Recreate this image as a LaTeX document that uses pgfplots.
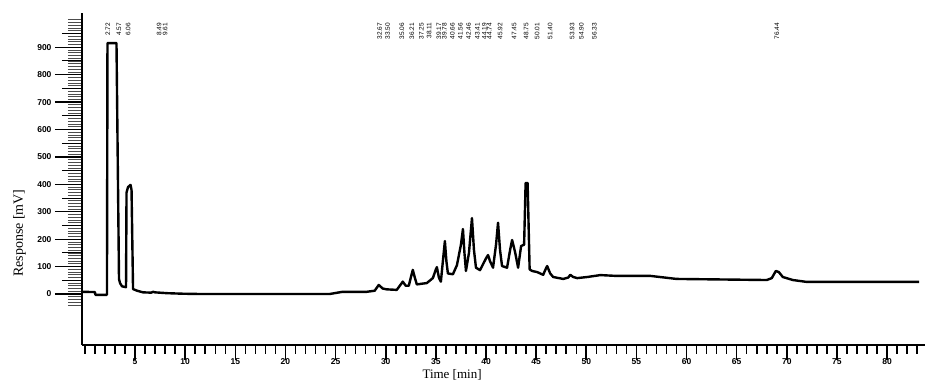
\documentclass[border=0pt]{standalone}
\usepackage{fontspec}
\setmainfont{Liberation Serif}
\newfontfamily\arial{Liberation Sans}
\usepackage{pgfplots}
\pgfplotsset{compat=1.18}
\pgfplotsset{commonax/.style={at={(82pt,37pt)}, anchor=south west, scale only axis,
  width=843pt, height=332pt, xmin=-0.29, xmax=83.78, ymin=-186, ymax=1025,
  /pgf/number format/assume math mode=true,
  tick label style={font=\arial\bfseries\fontsize{8.5}{9}\selectfont}}}
\begin{document}
\begin{tikzpicture}[x=1pt,y=1pt]
\useasboundingbox (0,0) rectangle (925,382);
% y axis: major and minor ticks
\begin{axis}[commonax,
  axis x line=none, axis y line=left, y axis line style={-, line width=2.4pt},
  ytick align=outside,
  ytick={0,100,...,900}, minor ytick={-40,-30,...,1000},
  major tick length=27pt, minor tick length=14pt,
  major tick style={line width=1.3pt, black}, minor tick style={line width=0.7pt, black!70},
  ylabel={Response [mV]},
  ylabel style={at={(axis description cs:-0.074,0.337)}, anchor=center, font=\fontsize{14}{16}\selectfont}]
\end{axis}
% y axis: medium ticks at the fifties
\begin{axis}[commonax,
  axis x line=none, axis y line=left, y axis line style={draw=none},
  ytick align=outside,
  ytick={50,150,...,950}, yticklabels={}, major tick length=20pt,
  major tick style={line width=1pt, black}]
\end{axis}
% x axis and the trace
\begin{axis}[commonax, clip=false,
  axis x line=bottom, axis y line=none, x axis line style={-, line width=2pt},
  xtick align=outside,
  xtick={5,10,...,80}, minor xtick={0,1,...,83},
  major tick length=15pt, minor tick length=9pt,
  major tick style={line width=1.6pt, black}, minor tick style={line width=1.5pt, black},
  xticklabel style={yshift=5pt},
  xlabel={Time [min]},
  xlabel style={at={(axis description cs:0.439,-0.1024)}, anchor=base, font=\fontsize{13}{15}\selectfont}]
\addplot[black, line width=2.4pt, line join=round, sharp plot] table {
x y
-0.2 8
1.0 7
1.05 -3
2.2 -3
2.25 915
3.15 915
3.4 55
3.5 40
3.7 28
4.1 25
4.15 370
4.3 390
4.55 398
4.65 380
4.8 18
5.2 12
5.8 6
6.6 5
6.8 8
7.0 6
8.2 3
9.8 1
11.5 0
21.5 0
24.4 0
25.7 8
28.1 8
28.9 12
29.3 33
29.7 20
30.1 17
31.1 15
31.5 35
31.7 45
32.0 30
32.3 30
32.5 60
32.7 88
32.9 60
33.1 35
34.1 40
34.7 58
35.0 90
35.1 98
35.3 60
35.5 45
35.7 120
35.9 193
36.05 120
36.2 75
36.7 72
37.1 105
37.5 180
37.7 237
37.85 150
38.0 84
38.3 150
38.6 277
38.8 160
39.0 96
39.4 87
40.0 130
40.2 142
40.4 120
40.7 96
41.0 180
41.2 260
41.4 160
41.6 102
42.1 96
42.4 160
42.6 197
42.9 153
43.2 96
43.5 175
43.8 180
43.95 405
44.15 405
44.35 90
44.6 84
45.1 80
45.7 70
46.0 95
46.1 102
46.4 75
46.7 62
47.7 55
48.2 60
48.4 70
48.7 62
49.1 58
50.1 62
51.4 69
53.0 66
56.4 66
59.0 55
68.0 51
68.5 58
68.9 84
69.2 80
69.6 62
70.6 51
72.0 44
83.2 44
};
\begin{scope}[every node/.style={rotate=90, anchor=east, inner sep=0pt, font=\arial\fontsize{6.5}{7}\selectfont}]
\node at (axis cs:2.3,990) {2.72};
\node at (axis cs:3.4,990) {4.57};
\node at (axis cs:4.3,990) {6.06};
\node at (axis cs:7.4,990) {8.49};
\node at (axis cs:8.0,990) {9.61};
\node at (axis cs:29.4,990) {32.67};
\node at (axis cs:30.2,990) {33.50};
\node at (axis cs:31.6,990) {35.06};
\node at (axis cs:32.6,990) {36.21};
\node at (axis cs:33.55,990) {37.25};
\node at (axis cs:34.33,990) {38.11};
\node at (axis cs:35.29,990) {39.17};
\node at (axis cs:35.84,990) {39.78};
\node at (axis cs:36.64,990) {40.66};
\node at (axis cs:37.45,990) {41.56};
\node at (axis cs:38.27,990) {42.46};
\node at (axis cs:39.13,990) {43.41};
\node at (axis cs:39.83,990) {44.19};
\node at (axis cs:40.33,990) {44.74};
\node at (axis cs:41.4,990) {45.92};
\node at (axis cs:42.8,990) {47.45};
\node at (axis cs:44.0,990) {48.75};
\node at (axis cs:45.1,990) {50.01};
\node at (axis cs:46.4,990) {51.40};
\node at (axis cs:48.6,990) {53.93};
\node at (axis cs:49.5,990) {54.90};
\node at (axis cs:50.8,990) {56.33};
\node at (axis cs:69.0,990) {76.44};
\end{scope}
\end{axis}
\end{tikzpicture}
\end{document}
